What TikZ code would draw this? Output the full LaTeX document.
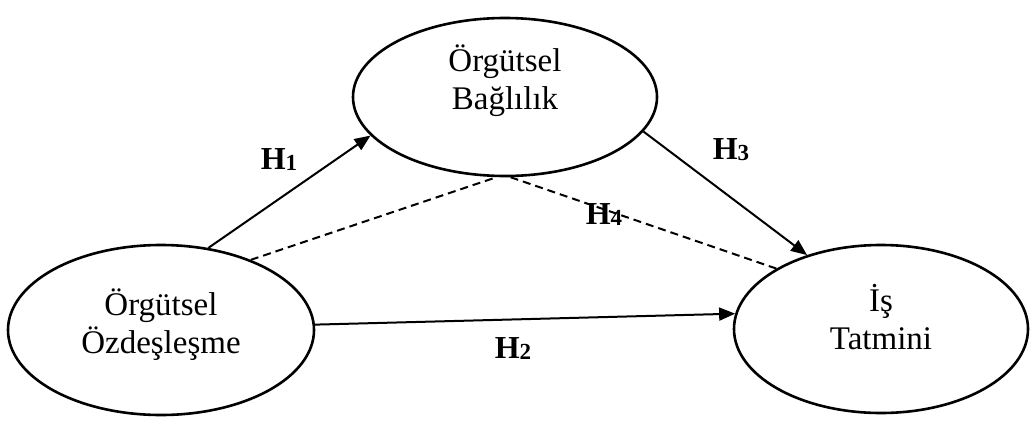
\documentclass[tikz,border=0pt]{standalone}
\usepackage{fontspec}
\setmainfont{Liberation Serif}
\usetikzlibrary{shapes.geometric,arrows.meta}
\begin{document}
\begin{tikzpicture}[x=1pt,y=-1pt,
  latent/.style={ellipse,draw,line width=2.6pt,inner sep=0pt},
  txt/.style={align=center,inner sep=0pt,font=\fontsize{33}{38}\selectfont},
  effect/.style={line width=2pt,-{Triangle[length=16pt,width=13pt]}},
  indirect/.style={line width=2pt,dash pattern=on 8pt off 5pt},
  hlab/.style={font=\fontsize{32}{36}\selectfont\bfseries,inner sep=0pt}]
\newcommand{\hyp}[1]{H\raisebox{-1pt}{\fontsize{23}{24}\selectfont\bfseries #1}}
\useasboundingbox (0,0) rectangle (1032,420);
\node[latent,minimum width=306pt,minimum height=170pt,
  label={[txt,yshift=5pt]center:{Örgütsel\\Özdeşleşme}}] (L) at (161,330) {};
\node[latent,minimum width=304pt,minimum height=158pt,
  label={[txt,yshift=16pt]center:{Örgütsel\\Bağlılık}}] (T) at (505,97) {};
\node[latent,minimum width=294pt,minimum height=168pt,
  label={[txt,yshift=12pt]center:{İş\\Tatmini}}] (R) at (881,329) {};
\draw[effect] (L.60) -- (T.196);
\draw[effect] (L.2) -- (R.174);
\draw[effect] (T.-14) -- (R.135);
\draw[indirect] (L.38) -- (T.264);
\draw[indirect] (T.274) -- (R.150);
\node[hlab] (h1) at (279,160) {\hyp{1}};
\node[hlab] (h2) at (513,349) {\hyp{2}};
\node[hlab] (h3) at (731,150) {\hyp{3}};
\node[hlab] (h4) at (604,215) {\hyp{4}};
\end{tikzpicture}
\end{document}
